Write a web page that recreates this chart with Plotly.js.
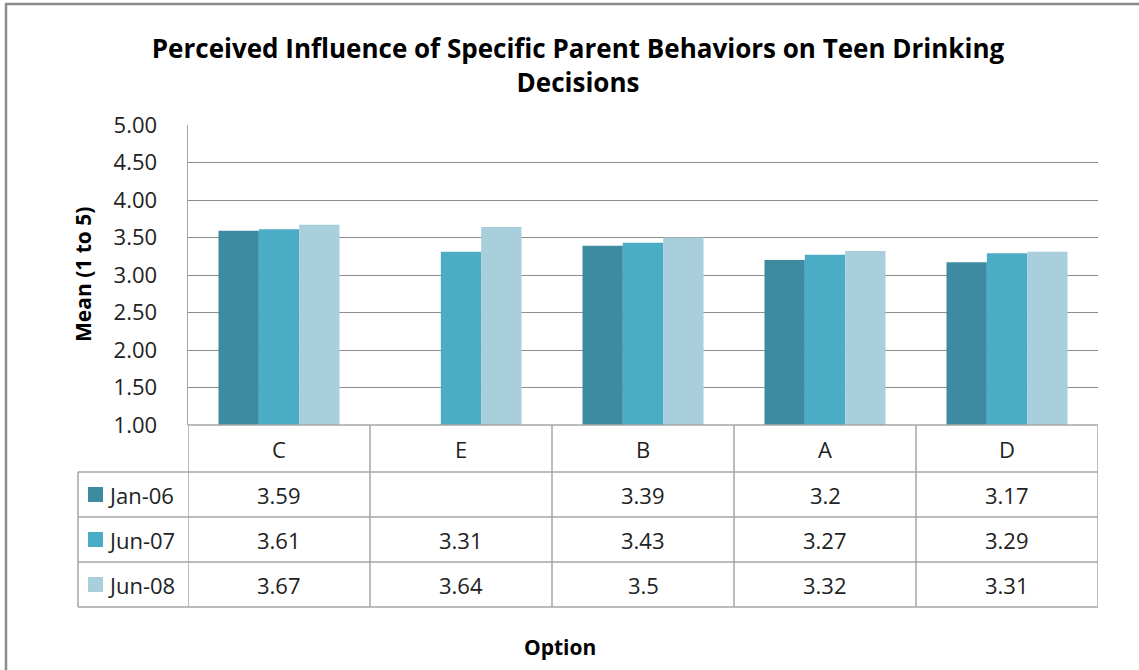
<!DOCTYPE html>
<html>
<head>
<meta charset="utf-8">
<script src="https://cdn.plot.ly/plotly-3.0.1.min.js"></script>
<style>html,body{margin:0;padding:0;background:#fff;}#chart{width:1139px;height:670px;}</style>
</head>
<body>
<div id="chart"></div>
<script>
// ---- data ----
const categories = ["C", "E", "B", "A", "D"];
const seriesNames = ["Jan-06", "Jun-07", "Jun-08"];
const jan06 = [3.59, null, 3.39, 3.2, 3.17];
const jun07 = [3.61, 3.31, 3.43, 3.27, 3.29];
const jun08 = [3.67, 3.64, 3.5, 3.32, 3.31];
const yTicks = [1.00, 1.50, 2.00, 2.50, 3.00, 3.50, 4.00, 4.50, 5.00];
const yTickLabels = ["1.00","1.50","2.00","2.50","3.00","3.50","4.00","4.50","5.00"];
const titleText = "Perceived Influence of Specific Parent Behaviors on Teen Drinking<br>Decisions";
const yTitle = "Mean (1 to 5)";
const xTitle = "Option";

// ---- style / layout constants ----
const W = 1139, H = 670;
const plotL = 188, plotR = 1098, plotT = 125, plotB = 425;
const colors = ["#3C8BA1", "#4BACC6", "#A9CFDD"];
const font = "'Open Sans', 'Noto Sans', sans-serif";
const lineCol = "#a6a6a6";
const txtSize = 22;
const seriesVals = [jan06, jun07, jun08];

const pH = plotB - plotT, pW = plotR - plotL;
const py = (y) => (plotB - y) / pH;        // pixel y -> paper y
const px = (x) => (x - plotL) / pW;        // pixel x -> paper x

const rowEdges = [plotB, 472, 517, 562, 607]; // category row, then 3 data rows
const legendLeft = 78;

const traces = seriesVals.map((vals, i) => ({
  type: "bar",
  name: seriesNames[i],
  x: categories,
  y: vals,
  marker: {color: colors[i], line: {width: 0}},
  hoverinfo: "x+y+name"
}));

const shapes = [];
const annotations = [];

// horizontal table lines
rowEdges.forEach((y, k) => {
  shapes.push({type: "line", xref: "paper", yref: "paper",
    x0: k === 0 ? 0 : px(legendLeft), x1: 1, y0: py(y), y1: py(y),
    line: {color: lineCol, width: 1.5}});
});
// vertical table lines at category boundaries
for (let i = 0; i <= categories.length; i++) {
  shapes.push({type: "line", xref: "x", yref: "paper",
    x0: i - 0.5, x1: i - 0.5, y0: py(rowEdges[0]), y1: py(rowEdges[4]),
    line: {color: lineCol, width: 1.5}});
}
// legend column left edge
shapes.push({type: "line", xref: "paper", yref: "paper",
  x0: px(legendLeft), x1: px(legendLeft), y0: py(rowEdges[1]), y1: py(rowEdges[4]),
  line: {color: lineCol, width: 1.5}});

// category labels
categories.forEach((c) => {
  annotations.push({xref: "x", yref: "paper", x: c, y: py((rowEdges[0] + rowEdges[1]) / 2),
    text: c, showarrow: false, xanchor: "center", yanchor: "middle",
    font: {family: font, size: txtSize, color: "#222"}});
});
// data cells + legend keys
seriesVals.forEach((vals, r) => {
  const yc = (rowEdges[r + 1] + rowEdges[r + 2]) / 2;
  vals.forEach((v, i) => {
    if (v === null) return;
    annotations.push({xref: "x", yref: "paper", x: categories[i], y: py(yc),
      text: String(v), showarrow: false, xanchor: "center", yanchor: "middle",
      font: {family: font, size: txtSize, color: "#222"}});
  });
  shapes.push({type: "rect", xref: "paper", yref: "paper",
    x0: px(88), x1: px(103), y0: py(yc + 7.5), y1: py(yc - 7.5),
    fillcolor: colors[r], line: {width: 0}});
  annotations.push({xref: "paper", yref: "paper", x: px(106), y: py(yc),
    text: seriesNames[r], showarrow: false, xanchor: "left", yanchor: "middle",
    font: {family: font, size: txtSize, color: "#222"}});
});

// outer chart-area border (top + left)
shapes.push({type: "line", xref: "paper", yref: "paper",
  x0: px(5), x1: px(W + 5), y0: py(4), y1: py(4), line: {color: "#8c8c8c", width: 2.5}});
shapes.push({type: "line", xref: "paper", yref: "paper",
  x0: px(6), x1: px(6), y0: py(4), y1: py(H + 5), line: {color: "#8c8c8c", width: 2.5}});

// y-axis title and x-axis title
annotations.push({xref: "paper", yref: "paper", x: px(83), y: 0.5, text: "<b>" + yTitle + "</b>",
  textangle: -90, showarrow: false, xanchor: "center", yanchor: "middle",
  font: {family: font, size: 21, color: "#000"}});
annotations.push({xref: "paper", yref: "paper", x: px(560), y: py(647), text: "<b>" + xTitle + "</b>",
  showarrow: false, xanchor: "center", yanchor: "middle",
  font: {family: font, size: 21, color: "#000"}});

const layout = {
  width: W, height: H,
  margin: {l: plotL, r: W - plotR, t: plotT, b: H - plotB, pad: 0},
  paper_bgcolor: "#fff", plot_bgcolor: "#fff",
  title: {text: "<b>" + titleText + "</b>", xref: "container", yref: "container",
    x: 578 / W, xanchor: "center", y: 1 - 58 / H, yanchor: "middle",
    font: {family: font, size: 26, color: "#000"}},
  barmode: "group", bargap: 0.335, bargroupgap: 0,
  showlegend: false,
  xaxis: {type: "category", showticklabels: false, ticks: "", showgrid: false,
    zeroline: false, showline: false, range: [-0.5, categories.length - 0.5], fixedrange: true},
  yaxis: {range: [1, 5], tickvals: yTicks, ticktext: yTickLabels, showgrid: true,
    gridcolor: "#8c8c8c", gridwidth: 1, zeroline: false, showline: true, linecolor: lineCol,
    linewidth: 1.5, ticks: "", ticklabelstandoff: 25,
    tickfont: {family: font, size: txtSize, color: "#222"}, fixedrange: true},
  shapes: shapes,
  annotations: annotations
};

Plotly.newPlot("chart", traces, layout, {displayModeBar: false, staticPlot: true});
</script>
</body>
</html>
